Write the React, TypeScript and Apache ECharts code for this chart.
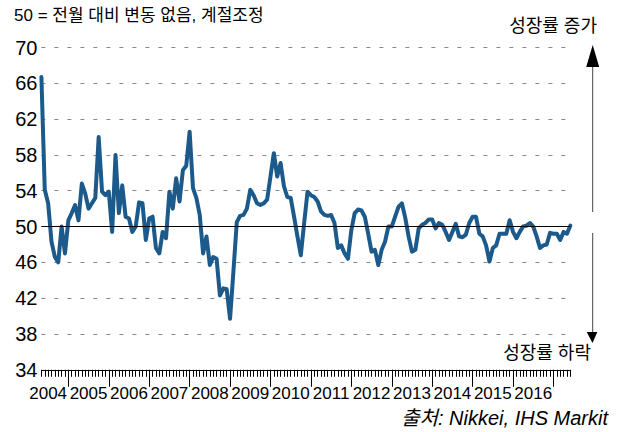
import React, { useEffect, useRef } from "react";
import * as echarts from "echarts";

const START_YEAR = 2004;
const START_MONTH = 5; // May
const pmiValues: number[] = [
  66.7, 54.1, 52.6, 48.3, 46.6, 46.0, 50.0, 47.0, 50.7, 51.5,
  52.4, 50.7, 54.8, 53.7, 52.0, 52.6, 53.2, 60.0, 53.9, 53.5,
  53.9, 49.4, 58.0, 51.5, 54.6, 51.1, 50.9, 49.4, 50.0, 52.7,
  52.6, 48.5, 50.9, 51.1, 47.6, 47.0, 49.4, 48.7, 53.9, 52.0,
  55.4, 52.8, 56.3, 56.8, 60.6, 54.3, 53.2, 51.3, 47.0, 48.9,
  45.7, 46.6, 46.4, 42.3, 43.1, 43.0, 39.7, 45.0, 50.5, 51.2,
  51.3, 52.0, 54.1, 53.5, 52.6, 52.4, 52.6, 53.0, 55.6, 58.2,
  55.6, 57.1, 54.5, 53.3, 53.2, 51.1, 48.9, 46.8, 50.4, 53.9,
  53.5, 53.3, 52.8, 51.7, 51.3, 51.2, 51.3, 50.4, 47.6, 47.9,
  47.0, 46.4, 49.6, 51.5, 51.9, 51.8, 51.1, 49.2, 47.2, 47.4,
  45.7, 47.4, 48.3, 50.0, 50.0, 51.1, 52.2, 52.6, 51.0, 48.9,
  47.2, 47.4, 49.8, 50.2, 50.4, 50.8, 50.8, 49.8, 50.4, 50.2,
  49.4, 48.5, 49.4, 50.3, 48.9, 48.8, 49.1, 50.4, 51.1, 51.1,
  49.2, 48.9, 47.9, 46.1, 47.6, 47.9, 49.2, 49.2, 49.2, 50.7,
  49.4, 48.7, 49.4, 50.0, 50.1, 50.4, 50.0, 48.9, 47.6, 47.9,
  48.0, 49.3, 49.2, 49.2, 48.5, 49.4, 49.2, 50.1,
];

const months: string[] = pmiValues.map((_, i) => {
  const m0 = START_MONTH - 1 + i;
  const y = START_YEAR + Math.floor(m0 / 12);
  const m = (m0 % 12) + 1;
  return `${y}-${m < 10 ? "0" + m : m}`;
});

const yTicks = { min: 34, max: 70, step: 4 };
const noChangeLevel = 50;
const titleText = "50 = 전월 대비 변동 없음, 계절조정";
const upText = "성장률 증가";
const downText = "성장률 하락";
const sourceText = "출처: Nikkei, IHS Markit";

const FONT = "'Liberation Sans', Arial, 'Noto Sans CJK KR', sans-serif";

export default function App() {
  const ref = useRef<HTMLDivElement>(null);
  useEffect(() => {
    document.body.style.margin = "0";
    if (!ref.current) return;
    const chart = echarts.init(ref.current, undefined, { renderer: "svg" });
    const monthOf = (v: string) => parseInt(v.slice(5), 10);
    chart.setOption({
      animation: false,
      backgroundColor: "#ffffff",
      grid: { left: 41.4, right: 51.7, top: 47.5, bottom: 62.2 },
      xAxis: [
        {
          type: "category",
          data: months,
          boundaryGap: false,
          position: "bottom",
          axisLine: { show: true, lineStyle: { color: "#000", width: 1 } },
          axisTick: {
            show: true,
            length: 17,
            lineStyle: { color: "#000", width: 1 },
            interval: (_i: number, v: string) => monthOf(v) === 1,
          },
          axisLabel: {
            show: true,
            interval: (_i: number, v: string) => monthOf(v) === 7,
            formatter: (v: string) => v.slice(0, 4),
            color: "#000",
            fontSize: 17,
            fontFamily: FONT,
            margin: 15,
          },
          splitLine: { show: false },
        },
        {
          type: "category",
          data: months,
          boundaryGap: false,
          position: "bottom",
          offset: 0,
          axisLine: { show: false },
          axisTick: {
            show: true,
            length: 7,
            interval: 0,
            lineStyle: { color: "#000", width: 1 },
          },
          axisLabel: { show: false },
          splitLine: { show: false },
        },
      ],
      yAxis: {
        type: "value",
        min: yTicks.min,
        max: yTicks.max,
        interval: yTicks.step,
        axisLine: { show: false },
        axisTick: { show: false },
        axisLabel: {
          color: "#000",
          fontSize: 20,
          fontFamily: FONT,
          margin: 4,
        },
        splitLine: {
          show: true,
          lineStyle: { color: "#888", width: 1, type: [4, 9] },
        },
      },
      series: [
        {
          type: "line",
          xAxisIndex: 0,
          data: pmiValues,
          showSymbol: false,
          symbol: "none",
          lineStyle: { color: "#1b5a8a", width: 4, join: "round", cap: "round" },
          z: 3,
        },
        {
          type: "line",
          xAxisIndex: 0,
          data: [],
          symbol: "none",
          z: 2,
          markLine: {
            silent: true,
            symbol: "none",
            label: { show: false },
            lineStyle: { color: "#000", width: 1, type: "solid" },
            data: [{ yAxis: noChangeLevel }],
          },
        },
      ],
      graphic: [
        {
          type: "text",
          left: 14,
          top: 7,
          style: { text: titleText, fill: "#000", font: `17px ${FONT}` },
        },
        {
          type: "text",
          x: 597,
          y: 26,
          style: {
            text: upText,
            fill: "#000",
            font: `18px ${FONT}`,
            textAlign: "right",
            textVerticalAlign: "middle",
          },
        },
        {
          type: "text",
          x: 591,
          y: 353,
          style: {
            text: downText,
            fill: "#000",
            font: `18px ${FONT}`,
            textAlign: "right",
            textVerticalAlign: "middle",
          },
        },
        {
          type: "text",
          x: 608,
          y: 418,
          style: {
            text: sourceText,
            fill: "#000",
            font: `italic 20px ${FONT}`,
            textAlign: "right",
            textVerticalAlign: "middle",
          },
        },
        {
          type: "line",
          shape: { x1: 592.7, y1: 62, x2: 592.7, y2: 212 },
          style: { stroke: "#444", lineWidth: 1 },
        },
        {
          type: "line",
          shape: { x1: 592.7, y1: 233, x2: 592.7, y2: 334 },
          style: { stroke: "#444", lineWidth: 1 },
        },
        {
          type: "polygon",
          shape: { points: [[592.7, 45], [586.2, 67], [599.2, 67]] },
          style: { fill: "#000" },
        },
        {
          type: "polygon",
          shape: { points: [[586.7, 332], [597.3, 332], [592.5, 343]] },
          style: { fill: "#000" },
        },
      ],
    });
    return () => chart.dispose();
  }, []);
  return (
    <div
      ref={ref}
      style={{ position: "absolute", left: 0, top: 0, width: 622, height: 432 }}
    />
  );
}
